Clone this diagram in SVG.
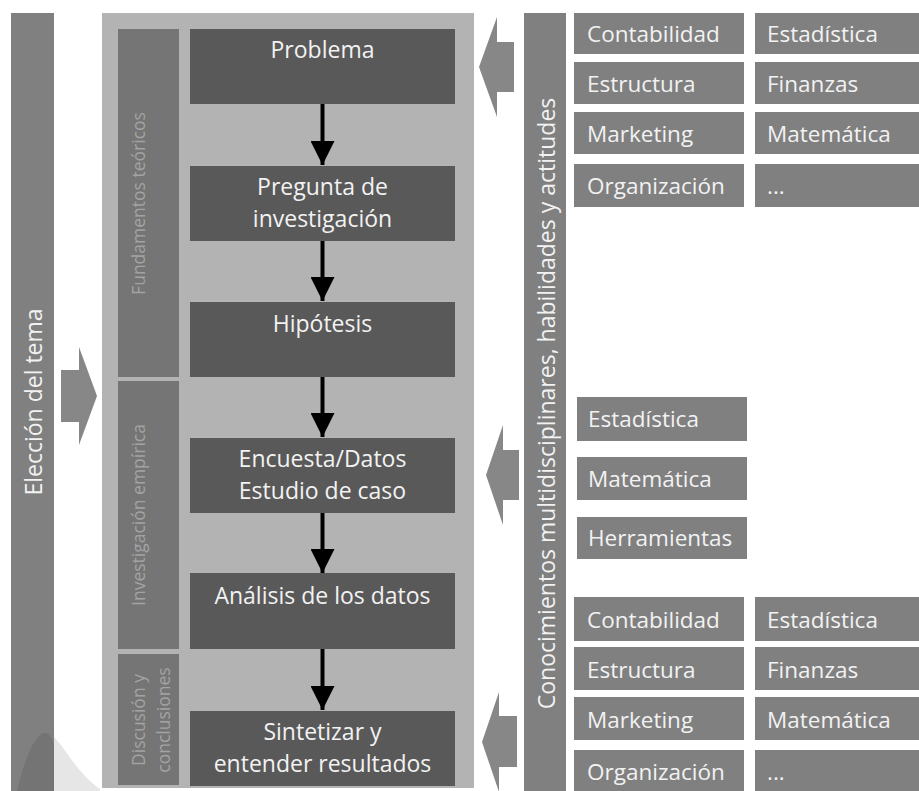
<svg xmlns="http://www.w3.org/2000/svg" width="919" height="791" viewBox="0 0 919 791">
<defs>
<style>
.bar{fill:#808080}
.panel{fill:#b3b3b3}
.strip{fill:#757575}
.step{fill:#595959}
.skill{fill:#808080}
.bigArrow{fill:#878787}
.t{font-family:"Open Sans","Noto Sans","Liberation Sans",sans-serif;fill:#f2f2f2}
.main{font-size:23px;text-anchor:middle}
.skillT{font-size:22.5px}
.vert{font-size:23px;text-anchor:middle}
.stripT{font-family:"Open Sans","Noto Sans","Liberation Sans",sans-serif;font-size:17.5px;fill:#a3a3a3;text-anchor:middle}
.conn{stroke:#000;stroke-width:4;fill:none}
</style>
<marker id="ah" markerWidth="6" markerHeight="6" refX="6" refY="3" orient="auto" markerUnits="strokeWidth">
<path d="M0,0 L6,3 L0,6 Z" fill="#000"/>
</marker>
</defs>
<rect width="919" height="791" fill="#ffffff"/>

<!-- decorative curve at bottom left -->
<path d="M15,791 C24,760 35,733 45,733 C60,733 70,768 100,789 L100,791 Z" fill="#e6e6e6"/>

<g id="eleccion">
<rect class="bar" x="11" y="13" width="43" height="778"/>
<path d="M17,791 C24,760 35,733 45,733 C49,733 52,738 54,744 L54,791 Z" fill="#747474"/>
<text class="t vert" transform="translate(42,402) rotate(-90)">Elección del tema</text>
</g>

<g id="arrow-eleccion">
<path class="bigArrow" d="M61,370 L79,370 L79,347 L97,396 L79,445 L79,422 L61,422 Z"/>
</g>

<g id="panel">
<rect class="panel" x="102" y="13" width="372" height="775"/>
</g>

<g id="fundamentos">
<rect class="strip" x="118" y="29" width="61" height="348"/>
<text class="stripT" transform="translate(145,203.5) rotate(-90)">Fundamentos teóricos</text>
</g>
<g id="investigacion">
<rect class="strip" x="118" y="381" width="61" height="268"/>
<text class="stripT" transform="translate(145,515) rotate(-90)">Investigación empírica</text>
</g>
<g id="discusion">
<rect class="strip" x="118" y="654" width="61" height="131"/>
<text class="stripT" transform="translate(145,720) rotate(-90)">Discusión y</text>
<text class="stripT" transform="translate(170,720) rotate(-90)">conclusiones</text>
</g>

<g id="problema">
<rect class="step" x="190" y="29" width="265" height="75"/>
<text class="t main" x="322.5" y="58">Problema</text>
</g>
<g id="pregunta">
<rect class="step" x="190" y="166" width="265" height="75"/>
<text class="t main" x="322.5" y="195">Pregunta de</text>
<text class="t main" x="322.5" y="227">investigación</text>
</g>
<g id="hipotesis">
<rect class="step" x="190" y="302" width="265" height="75"/>
<text class="t main" x="322.5" y="332">Hipótesis</text>
</g>
<g id="encuesta">
<rect class="step" x="190" y="438" width="265" height="75"/>
<text class="t main" x="322.5" y="467">Encuesta/Datos</text>
<text class="t main" x="322.5" y="499">Estudio de caso</text>
</g>
<g id="analisis">
<rect class="step" x="190" y="573" width="265" height="76"/>
<text class="t main" x="322.5" y="604">Análisis de los datos</text>
</g>
<g id="sintetizar">
<rect class="step" x="190" y="711" width="265" height="75"/>
<text class="t main" x="322.5" y="740">Sintetizar y</text>
<text class="t main" x="322.5" y="772">entender resultados</text>
</g>

<g id="connectors">
<line class="conn" x1="322.5" y1="104" x2="322.5" y2="165" marker-end="url(#ah)"/>
<line class="conn" x1="322.5" y1="241" x2="322.5" y2="301" marker-end="url(#ah)"/>
<line class="conn" x1="322.5" y1="377" x2="322.5" y2="437" marker-end="url(#ah)"/>
<line class="conn" x1="322.5" y1="513" x2="322.5" y2="573" marker-end="url(#ah)"/>
<line class="conn" x1="322.5" y1="649" x2="322.5" y2="710" marker-end="url(#ah)"/>
</g>

<g id="conocimientos">
<rect class="bar" x="524" y="13" width="42" height="778"/>
<text class="t vert" transform="translate(555,403.5) rotate(-90)">Conocimientos multidisciplinares, habilidades y actitudes</text>
</g>

<g id="arrows-conocimientos">
<path class="bigArrow" d="M514,42 L497,42 L497,17 L479,67 L497,117 L497,92 L514,92 Z"/>
<path class="bigArrow" d="M519,450 L503,450 L503,425 L486,475 L503,525 L503,500 L519,500 Z"/>
<path class="bigArrow" d="M517,716 L499,716 L499,692 L482,742 L499,792 L499,767 L517,767 Z"/>
</g>

<g id="skills-top">
<rect class="skill" x="574" y="13" width="170" height="41"/>
<text class="t skillT" x="587" y="42">Contabilidad</text>
<rect class="skill" x="755" y="13" width="164" height="41"/>
<text class="t skillT" x="767" y="42">Estadística</text>
<rect class="skill" x="574" y="62" width="170" height="42"/>
<text class="t skillT" x="587" y="92">Estructura</text>
<rect class="skill" x="755" y="62" width="164" height="42"/>
<text class="t skillT" x="767" y="92">Finanzas</text>
<rect class="skill" x="574" y="112" width="170" height="42"/>
<text class="t skillT" x="587" y="142">Marketing</text>
<rect class="skill" x="755" y="112" width="164" height="42"/>
<text class="t skillT" x="767" y="142">Matemática</text>
<rect class="skill" x="574" y="164" width="170" height="43"/>
<text class="t skillT" x="587" y="194">Organización</text>
<rect class="skill" x="755" y="164" width="164" height="43"/>
<text class="t skillT" x="767" y="194">...</text>
</g>

<g id="skills-middle">
<rect class="skill" x="577" y="397" width="170" height="44"/>
<text class="t skillT" x="588" y="427">Estadística</text>
<rect class="skill" x="577" y="457" width="170" height="43"/>
<text class="t skillT" x="588" y="487">Matemática</text>
<rect class="skill" x="577" y="517" width="170" height="42"/>
<text class="t skillT" x="588" y="546">Herramientas</text>
</g>

<g id="skills-bottom">
<rect class="skill" x="574" y="597" width="170" height="44"/>
<text class="t skillT" x="587" y="628">Contabilidad</text>
<rect class="skill" x="755" y="597" width="164" height="44"/>
<text class="t skillT" x="767" y="628">Estadística</text>
<rect class="skill" x="574" y="647" width="170" height="43"/>
<text class="t skillT" x="587" y="678">Estructura</text>
<rect class="skill" x="755" y="647" width="164" height="43"/>
<text class="t skillT" x="767" y="678">Finanzas</text>
<rect class="skill" x="574" y="697" width="170" height="43"/>
<text class="t skillT" x="587" y="728">Marketing</text>
<rect class="skill" x="755" y="697" width="164" height="43"/>
<text class="t skillT" x="767" y="728">Matemática</text>
<rect class="skill" x="574" y="750" width="170" height="41"/>
<text class="t skillT" x="587" y="780">Organización</text>
<rect class="skill" x="755" y="750" width="164" height="41"/>
<text class="t skillT" x="767" y="780">...</text>
</g>
</svg>
